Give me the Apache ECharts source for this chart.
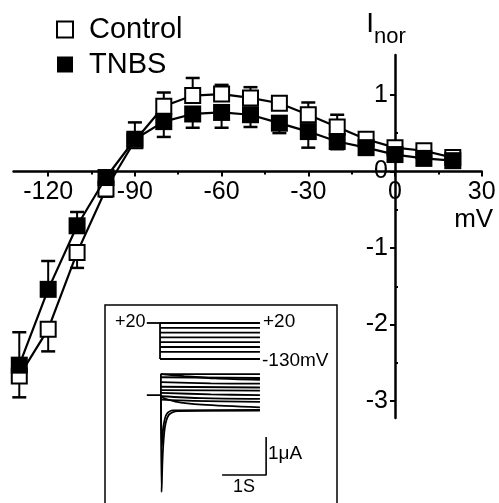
<!DOCTYPE html>
<html><head><meta charset="utf-8">
<script src="https://cdn.jsdelivr.net/npm/echarts@6/dist/echarts.min.js"></script>
<style>html,body{margin:0;padding:0;background:#fff}#c{width:499px;height:503px}</style>
</head><body><div id="c"></div>
<script>
// ---- main I-V data ----
const voltages = [-130,-120,-110,-100,-90,-80,-70,-60,-50,-40,-30,-20,-10,0,10,20];
const controlValues = [-2.67,-2.06,-1.06,-0.23,0.40,0.85,0.99,1.01,0.96,0.89,0.74,0.58,0.42,0.31,0.27,0.18];
const tnbsValues    = [-2.53,-1.54,-0.71,-0.08,0.42,0.65,0.75,0.77,0.74,0.63,0.52,0.39,0.31,0.22,0.17,0.14];
// signed error bars (positive = drawn upward, negative = drawn downward)
const controlErrors = [-0.28,-0.29,-0.20,-0.10,-0.08,0.18,0.23,0.12,0.14,0.07,0.16,0.16,0.05,0.06,0.03,0.02];
const tnbsErrors    = [0.43,0.37,0.18,0.05,0.22,-0.20,-0.18,-0.20,-0.16,-0.13,-0.21,-0.10,-0.05,-0.06,-0.03,-0.02];
const xTickLabels = [-120,-90,-60,-30,0,30];
const xMinorTicks = [-105,-75,-45,-15,15];
const yTickLabels = [-3,-2,-1,0,1];
const yMinorTicks = [-2.5,-1.5,-0.5,0.5];

// ---- inset data ----
const stepLevels = [20,0,-20,-40,-60,-80,-100,-130]; // mV
const holdStart = 0.95, stepStart = 1.25, stepEnd = 3.52; // s
const currentTraces = [ // [time s, current uA]
  [[0.95,0],[1.27,0],[1.27,0.55],[3.52,0.55]],
  [[1.27,0.55],[1.8,0.5],[2.5,0.44],[3.52,0.4]],
  [[1.27,0.47],[3.52,0.45]],
  [[1.27,0.34],[2.4,0.31],[3.52,0.3]],
  [[1.27,0.22],[3.52,0.2]],
  [[1.27,0.13],[3.52,0.12]],
  [[1.27,0.06],[2.4,0.02],[3.52,0.0]],
  [[1.27,-0.03],[2.2,-0.08],[3.52,-0.1]],
  [[1.27,-0.12],[2.0,-0.15],[3.52,-0.18]],
  [[1.27,-0.05],[1.6,-0.17],[2.2,-0.25],[3.52,-0.32]],
  [[1.27,0],[1.29,-1.35],[1.33,-0.8],[1.4,-0.5],[1.55,-0.4],[3.52,-0.39]],
  [[1.27,0],[1.285,-2.55],[1.31,-1.6],[1.36,-0.85],[1.45,-0.52],[1.65,-0.42],[3.52,-0.41]]
];
const scaleBar = [[3.66,-1.1],[3.66,-2.1],[2.66,-2.1]]; // 1 uA, 1 s

const FONT = '"Liberation Sans", Arial, Helvetica, sans-serif';
const X_MIN = -132, X_MAX = 30, Y_MIN = -3.22, Y_MAX = 1.52;
const G = {left:13.5, right:17.3, top:55, bottom:85};
const W = 499, H = 503;
const gw = W - G.left - G.right, gh = H - G.top - G.bottom;
// shift axes so they cross at the origin
const xAxisOffset = -(gh * (0 - Y_MIN) / (Y_MAX - Y_MIN));
const yAxisOffset = -(gw * (0 - X_MIN) / (X_MAX - X_MIN));

const chart = echarts.init(document.getElementById('c'), null, {renderer:'canvas'});

function errRender(params, api){
  const x = api.value(0), y = api.value(1), e = api.value(2);
  const p0 = api.coord([x, y]), p1 = api.coord([x, y + e]);
  const hw = 7;
  return {type:'group', children:[
    {type:'line', shape:{x1:p0[0],y1:p0[1],x2:p1[0],y2:p1[1]}, style:{stroke:'#000',lineWidth:2}},
    {type:'line', shape:{x1:p1[0]-hw,y1:p1[1],x2:p1[0]+hw,y2:p1[1]}, style:{stroke:'#000',lineWidth:2.5}}
  ]};
}

const series = [
  {name:'Control SEM', type:'custom', xAxisIndex:0, yAxisIndex:0, z:1, silent:true,
   renderItem: errRender, encode:{x:0,y:1},
   data: voltages.map((v,i)=>[v, controlValues[i], controlErrors[i]])},
  {name:'TNBS SEM', type:'custom', xAxisIndex:0, yAxisIndex:0, z:1, silent:true,
   renderItem: errRender, encode:{x:0,y:1},
   data: voltages.map((v,i)=>[v, tnbsValues[i], tnbsErrors[i]])},
  {name:'Control', type:'line', xAxisIndex:0, yAxisIndex:0, z:3,
   data: voltages.map((v,i)=>[v, controlValues[i]]),
   symbol:'rect', symbolSize:15, showAllSymbol:true,
   itemStyle:{color:'#fff', borderColor:'#000', borderWidth:2},
   lineStyle:{color:'#000', width:2.2}},
  {name:'TNBS', type:'line', xAxisIndex:0, yAxisIndex:0, z:4,
   data: voltages.map((v,i)=>[v, tnbsValues[i]]),
   symbol:'rect', symbolSize:17, showAllSymbol:true,
   itemStyle:{color:'#000', borderColor:'#000', borderWidth:0},
   lineStyle:{color:'#000', width:2.2}}
];

// inset: voltage protocol
series.push({type:'line', xAxisIndex:2, yAxisIndex:2, symbol:'none', silent:true,
  lineStyle:{color:'#000', width:1.8},
  data:[[holdStart, stepLevels[0]],[stepStart, stepLevels[0]]]});
series.push({type:'line', xAxisIndex:2, yAxisIndex:2, symbol:'none', silent:true,
  lineStyle:{color:'#000', width:1.8},
  data:[[stepStart, stepLevels[0]],[stepStart, stepLevels[stepLevels.length-1]]]});
stepLevels.forEach(v=>{
  series.push({type:'line', xAxisIndex:2, yAxisIndex:2, symbol:'none', silent:true,
    lineStyle:{color:'#000', width:1.8},
    data:[[stepStart, v],[stepEnd, v]]});
});
// inset: current traces
currentTraces.forEach(tr=>{
  series.push({type:'line', xAxisIndex:2, yAxisIndex:3, symbol:'none', silent:true, smooth:0.3,
    lineStyle:{color:'#000', width:1.8}, data: tr});
});
series.push({type:'line', xAxisIndex:2, yAxisIndex:3, symbol:'none', silent:true,
  lineStyle:{color:'#000', width:1.6}, data: scaleBar});

const option = {
  animation:false,
  backgroundColor:'#fff',
  textStyle:{fontFamily:FONT},
  legend:{
    orient:'vertical', left:56, top:15, padding:0,
    itemWidth:16, itemHeight:16, itemGap:6, selectedMode:false,
    data:[{name:'Control', icon:'rect'},{name:'TNBS', icon:'rect'}],
    textStyle:{fontSize:29, color:'#000', fontFamily:FONT, lineHeight:29, padding:[0,0,0,11]}
  },
  grid:[
    {left:G.left, right:G.right, top:G.top, bottom:G.bottom, containLabel:false, outerBoundsMode:'none'},
    {left:105, top:305, width:232, height:200, show:true, borderColor:'#000', borderWidth:1.5,
     backgroundColor:'rgba(0,0,0,0)', containLabel:false, outerBoundsMode:'none'}
  ],
  xAxis:[
    {type:'value', gridIndex:0, min:X_MIN, max:X_MAX, position:'bottom', offset:xAxisOffset,
     splitLine:{show:false},
     axisLine:{onZero:false, lineStyle:{color:'#000', width:2.5}},
     axisTick:{show:true, customValues:xTickLabels, length:5, lineStyle:{color:'#000', width:2}},
     axisLabel:{customValues:xTickLabels, fontSize:25, color:'#000', margin:8, fontFamily:FONT},
     name:'mV', nameLocation:'end', nameGap:0, nameMoveOverlap:false,
     nameTextStyle:{fontSize:26, color:'#000', fontFamily:FONT, align:'center', verticalAlign:'top', padding:[35,16,0,0]}},
    {type:'value', gridIndex:0, min:X_MIN, max:X_MAX, position:'bottom', offset:xAxisOffset,
     splitLine:{show:false},
     axisLine:{show:false, onZero:false},
     axisTick:{show:true, customValues:xMinorTicks, length:3, lineStyle:{color:'#000', width:2}},
     axisLabel:{show:false}},
    {type:'value', gridIndex:1, min:0, max:5.27, show:false}
  ],
  yAxis:[
    {type:'value', gridIndex:0, min:Y_MIN, max:Y_MAX, position:'left', offset:yAxisOffset,
     splitLine:{show:false},
     axisLine:{onZero:false, lineStyle:{color:'#000', width:2.5}},
     axisTick:{show:true, customValues:yTickLabels, length:5, lineStyle:{color:'#000', width:2}},
     axisLabel:{customValues:yTickLabels, fontSize:25, color:'#000', margin:7, fontFamily:FONT},
     name:'{i|I}{s|nor}', nameLocation:'end', nameGap:7, nameMoveOverlap:false,
     nameTextStyle:{color:'#000', fontFamily:FONT, padding:[0,18,0,0],
       rich:{i:{fontSize:28, lineHeight:30, padding:[0,0,10,0], verticalAlign:'bottom', fontFamily:FONT, color:'#000'},
             s:{fontSize:22, lineHeight:22, verticalAlign:'bottom', fontFamily:FONT, color:'#000'}}}},
    {type:'value', gridIndex:0, min:Y_MIN, max:Y_MAX, position:'left', offset:yAxisOffset,
     splitLine:{show:false},
     axisLine:{show:false, onZero:false},
     axisTick:{show:true, inside:true, customValues:yMinorTicks, length:3, lineStyle:{color:'#000', width:2}},
     axisLabel:{show:false}},
    {type:'value', gridIndex:1, min:-738.3, max:95, show:false},
    {type:'value', gridIndex:1, min:-2.89, max:2.37, show:false}
  ],
  graphic:[
    {type:'text', left:115, top:313, style:{text:'+20', fontSize:18, fill:'#000', fontFamily:FONT}},
    {type:'text', left:263, top:312, style:{text:'+20', fontSize:19, fill:'#000', fontFamily:FONT}},
    {type:'text', left:262, top:351, style:{text:'-130mV', fontSize:19, fill:'#000', fontFamily:FONT}},
    {type:'text', left:268, top:444, style:{text:'1\u03bcA', fontSize:19, fill:'#000', fontFamily:FONT}},
    {type:'text', left:233, top:478, style:{text:'1S', fontSize:18, fill:'#000', fontFamily:FONT}}
  ],
  series: series
};
chart.setOption(option);
</script>
</body></html>
